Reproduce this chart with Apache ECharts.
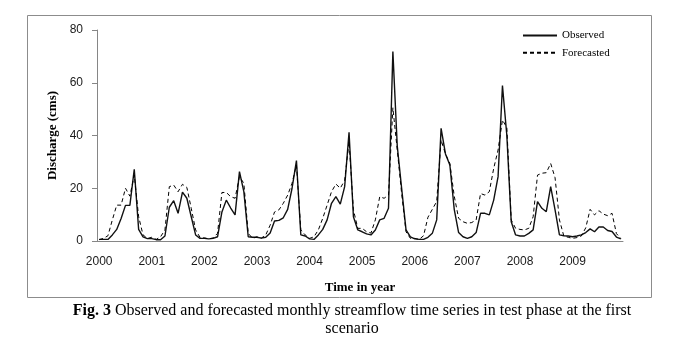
<!DOCTYPE html>
<html>
<head>
<meta charset="utf-8">
<script src="https://cdn.jsdelivr.net/npm/echarts@6/dist/echarts.min.js"></script>
<style>
  html, body { margin: 0; padding: 0; background: #fff; }
  #chart { width: 689px; height: 342px; }
</style>
</head>
<body>
<div id="chart"></div>
<script>
// Monthly streamflow, test phase 2000-2009 (cms)
const years = ['2000', '2001', '2002', '2003', '2004', '2005', '2006', '2007', '2008', '2009'];

const observed = [
  0.6, 0.6, 0.6, 2.3, 4.4, 8.5, 13.5, 13.5, 27.2, 4.4, 1.6, 0.9,
  0.9, 0.5, 0.5, 1.9, 12.8, 15.3, 10.5, 18.5, 16.2, 9.2, 2.3, 1.0,
  1.0, 0.8, 1.0, 1.6, 11.0, 15.5, 12.5, 9.9, 26.3, 18.7, 1.6, 1.4,
  1.4, 1.1, 1.4, 3.0, 7.6, 7.8, 8.8, 12.0, 20.0, 30.5, 2.3, 1.9,
  0.8, 0.6, 2.3, 4.4, 8.0, 14.3, 16.8, 14.0, 20.6, 41.2, 9.2, 4.2,
  3.5, 2.7, 2.3, 4.2, 8.0, 8.6, 12.4, 71.8, 36.0, 20.0, 4.2, 1.6,
  0.8, 0.6, 0.6, 1.4, 2.9, 8.0, 42.7, 33.0, 28.8, 12.0, 3.2, 1.6,
  1.0, 1.6, 3.2, 10.5, 10.5, 9.9, 15.5, 24.4, 58.9, 40.0, 7.3, 2.3,
  1.9, 1.9, 2.9, 4.2, 14.9, 12.4, 11.1, 20.6, 11.8, 2.3, 2.0, 1.9,
  1.6, 1.9, 2.3, 3.2, 4.6, 3.5, 5.3, 5.3, 4.0, 3.6, 1.5, 0.8
];

const forecasted = [
  0.5, 1.0, 2.0, 8.0, 13.6, 13.6, 20.0, 17.0, 25.0, 9.2, 2.3, 1.0,
  1.4, 0.6, 1.6, 4.2, 20.6, 21.2, 18.7, 21.5, 20.3, 12.4, 4.2, 1.4,
  1.2, 0.8, 1.2, 2.9, 18.4, 18.4, 16.8, 16.2, 24.4, 21.9, 2.9, 1.0,
  1.6, 1.1, 2.3, 6.0, 11.0, 11.8, 14.3, 17.4, 21.9, 28.8, 4.2, 2.3,
  1.0, 1.6, 4.2, 8.6, 13.6, 18.7, 21.6, 20.0, 23.0, 37.7, 11.8, 4.8,
  4.8, 3.5, 3.0, 8.0, 16.8, 16.2, 17.4, 50.5, 34.5, 18.0, 3.5, 1.0,
  1.0, 0.6, 2.0, 9.0, 12.0, 15.0, 38.3, 33.0, 29.4, 17.0, 8.6, 7.3,
  6.7, 7.0, 8.0, 18.0, 17.4, 18.7, 27.5, 34.5, 45.9, 43.0, 8.0, 4.8,
  4.4, 4.2, 4.8, 9.2, 25.0, 25.7, 25.9, 29.4, 24.0, 8.0, 1.9, 1.4,
  1.0, 1.3, 1.9, 5.0, 12.0, 9.9, 11.5, 10.2, 9.6, 10.5, 2.8, 1.0
];

// one category per month; the year is written on the first month of each year
const months = [];
years.forEach(function (y) {
  for (let m = 0; m < 12; m++) months.push(m === 0 ? y : '');
});

const axisGray = '#868686';
const serif = '"Liberation Serif", "Times New Roman", serif';
const sans = '"Liberation Sans", Arial, sans-serif';

const chart = echarts.init(document.getElementById('chart'), null, { renderer: 'canvas' });

chart.setOption({
  animation: false,
  backgroundColor: '#fff',
  grid: { left: 97, right: 66, top: 30, bottom: 101, outerBoundsMode: 'none' },
  legend: {
    orient: 'vertical',
    left: 517,
    top: 25,
    itemWidth: 34,
    itemHeight: 14,
    itemGap: 6,
    itemStyle: { opacity: 0 },
    textStyle: { fontFamily: serif, fontSize: 11, color: '#000' },
    data: ['Observed', 'Forecasted']
  },
  xAxis: {
    type: 'category',
    data: months,
    boundaryGap: true,
    name: 'Time in year',
    nameLocation: 'middle',
    nameGap: 40,
    nameTextStyle: { fontFamily: serif, fontSize: 13, fontWeight: 'bold', color: '#000' },
    axisLine: { lineStyle: { color: axisGray, width: 1 } },
    axisTick: { interval: 11, length: 5, lineStyle: { color: axisGray } },
    axisLabel: { interval: 11, margin: 15, fontFamily: sans, fontSize: 12, color: '#1a1a1a' },
    splitLine: { show: false }
  },
  yAxis: {
    type: 'value',
    min: 0,
    max: 80,
    interval: 20,
    name: 'Discharge (cms)',
    nameLocation: 'middle',
    nameRotate: 90,
    nameGap: 31,
    nameTextStyle: { fontFamily: serif, fontSize: 13, fontWeight: 'bold', color: '#000' },
    axisLine: { show: true, lineStyle: { color: axisGray, width: 1 } },
    axisTick: { show: true, length: 5, lineStyle: { color: axisGray } },
    axisLabel: { margin: 14, fontFamily: sans, fontSize: 12, color: '#1a1a1a' },
    splitLine: { show: false }
  },
  series: [
    {
      name: 'Observed',
      type: 'line',
      data: observed,
      showSymbol: false,
      symbol: 'none',
      lineStyle: { color: '#111', width: 1.4, type: 'solid' },
      itemStyle: { color: '#111' }
    },
    {
      name: 'Forecasted',
      type: 'line',
      data: forecasted,
      showSymbol: false,
      symbol: 'none',
      lineStyle: { color: '#000', width: 1, type: [4, 3] },
      itemStyle: { color: '#000' }
    }
  ],
  graphic: [
    {
      type: 'rect',
      silent: true,
      shape: { x: 27.5, y: 15.5, width: 624, height: 282 },
      style: { fill: 'none', stroke: '#8c8c8c', lineWidth: 1 }
    },
    {
      type: 'text',
      x: 352,
      y: 302,
      style: {
        text: '{b|Fig. 3} Observed and forecasted monthly streamflow time series in test phase at the first\nscenario',
        align: 'center',
        textAlign: 'center',
        font: '16px ' + serif,
        fill: '#000',
        lineHeight: 18,
        rich: {
          b: { fontWeight: 'bold', fontFamily: serif, fontSize: 16, fill: '#000' }
        }
      }
    }
  ]
});
</script>
</body>
</html>
